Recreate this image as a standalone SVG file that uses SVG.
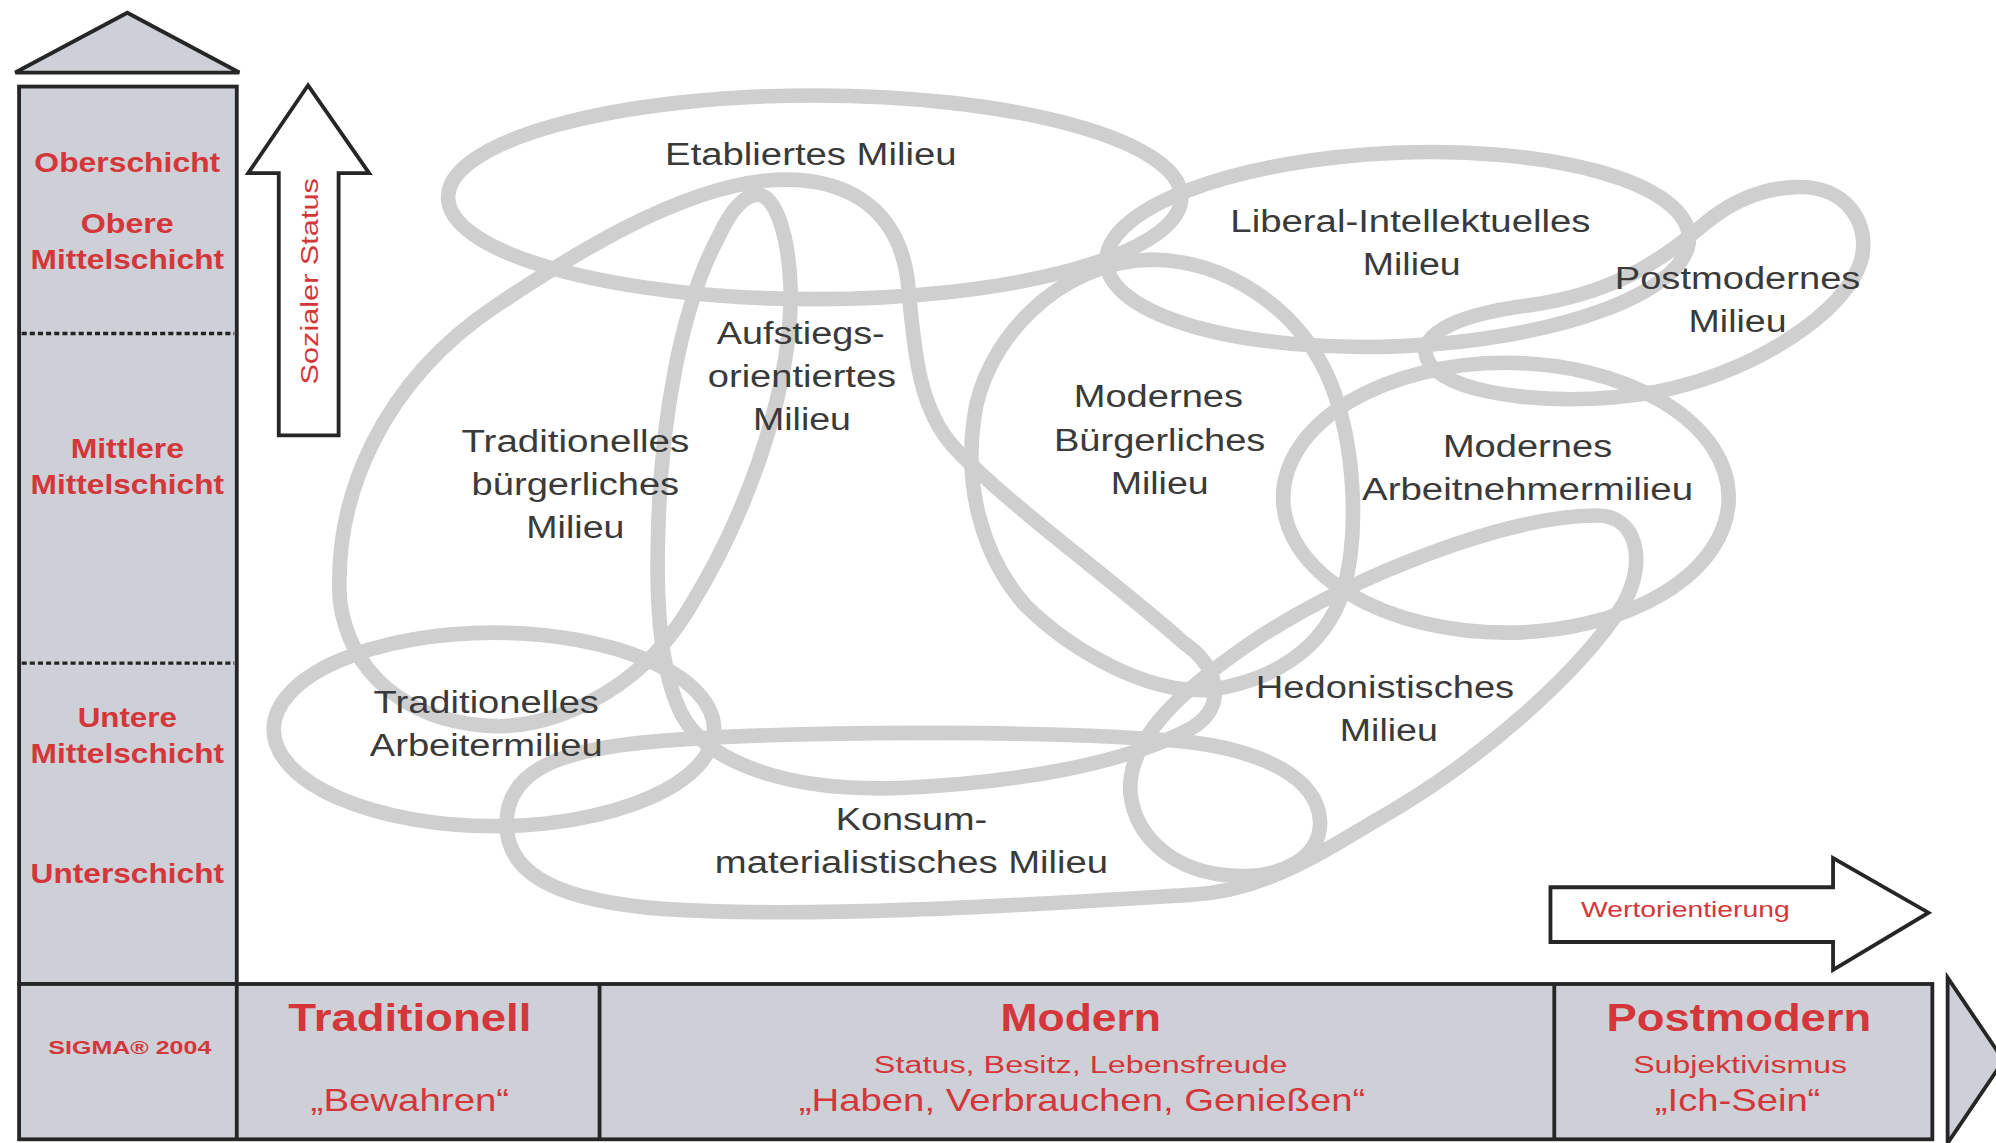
<svg xmlns="http://www.w3.org/2000/svg" width="1996" height="1143" viewBox="0 0 1996 1143">
<style>
.frame{fill:#cdd0d6;stroke:#262626;stroke-width:3;stroke-linejoin:miter}
.white{fill:#ffffff;stroke:#262626;stroke-width:3;stroke-linejoin:miter}
.loop{fill:none;stroke:#cfcfcf;stroke-width:11.5}
.lbl{font-family:"Liberation Sans",Arial,sans-serif;font-size:25px;fill:#3a3a3a;text-anchor:middle}
.red{font-family:"Liberation Sans",Arial,sans-serif;fill:#d4363a;text-anchor:middle}
.b{font-weight:bold}
.col{font-size:21px;font-weight:bold}
.dot{stroke:#222222;stroke-width:2.6;stroke-dasharray:4 2.4;fill:none}
</style>
<rect width="1996" height="1143" fill="#ffffff"/>
<g transform="scale(1.27296)">
  <g id="axis-social">
    <polygon class="frame" points="100,10 12,57 188,57"/>
    <rect class="frame" x="15" y="68" width="171" height="705"/>
    <line class="dot" x1="17" y1="262" x2="184" y2="262"/>
    <line class="dot" x1="17" y1="521" x2="184" y2="521"/>
    <text class="red col" x="100" y="135" textLength="146" lengthAdjust="spacingAndGlyphs">Oberschicht</text>
    <text class="red col" x="100" y="183" textLength="73" lengthAdjust="spacingAndGlyphs">Obere</text>
    <text class="red col" x="100" y="211" textLength="152" lengthAdjust="spacingAndGlyphs">Mittelschicht</text>
    <text class="red col" x="100" y="360" textLength="89" lengthAdjust="spacingAndGlyphs">Mittlere</text>
    <text class="red col" x="100" y="388" textLength="152" lengthAdjust="spacingAndGlyphs">Mittelschicht</text>
    <text class="red col" x="100" y="571" textLength="78" lengthAdjust="spacingAndGlyphs">Untere</text>
    <text class="red col" x="100" y="599" textLength="152" lengthAdjust="spacingAndGlyphs">Mittelschicht</text>
    <text class="red col" x="100" y="694" textLength="152" lengthAdjust="spacingAndGlyphs">Unterschicht</text>
  </g>
  <g id="axis-values">
    <polygon class="frame" points="1530,768 1574,833 1530,898"/>
    <rect class="frame" x="15" y="773" width="1503" height="122"/>
    <line stroke="#262626" stroke-width="3" x1="186" y1="773" x2="186" y2="895"/>
    <line stroke="#262626" stroke-width="3" x1="471" y1="773" x2="471" y2="895"/>
    <line stroke="#262626" stroke-width="3" x1="1221" y1="773" x2="1221" y2="895"/>
    <text class="red b" x="102" y="828" font-size="15" textLength="128" lengthAdjust="spacingAndGlyphs">SIGMA® 2004</text>
    <text class="red b" x="322" y="810" font-size="30" textLength="191" lengthAdjust="spacingAndGlyphs">Traditionell</text>
    <text class="red" x="322" y="873" font-size="24" textLength="156" lengthAdjust="spacingAndGlyphs">„Bewahren“</text>
    <text class="red b" x="849" y="810" font-size="30" textLength="126" lengthAdjust="spacingAndGlyphs">Modern</text>
    <text class="red" x="849" y="843" font-size="19" textLength="325" lengthAdjust="spacingAndGlyphs">Status, Besitz, Lebensfreude</text>
    <text class="red" x="850" y="873" font-size="24" textLength="445" lengthAdjust="spacingAndGlyphs">„Haben, Verbrauchen, Genießen“</text>
    <text class="red b" x="1366" y="810" font-size="30" textLength="208" lengthAdjust="spacingAndGlyphs">Postmodern</text>
    <text class="red" x="1367" y="843" font-size="19" textLength="168" lengthAdjust="spacingAndGlyphs">Subjektivismus</text>
    <text class="red" x="1365" y="873" font-size="24" textLength="130" lengthAdjust="spacingAndGlyphs">„Ich-Sein“</text>
  </g>
  <g id="arrow-status">
    <polygon class="white" points="242,67 290,136 266,136 266,342 219,342 219,136 195,136"/>
    <text class="red" transform="translate(243,221) rotate(-90)" x="0" y="7" font-size="19" textLength="162" lengthAdjust="spacingAndGlyphs">Sozialer Status</text>
  </g>
  <g id="arrow-wert">
    <polygon class="white" points="1218,697 1440,697 1440,674 1515,717 1440,762 1440,740 1218,740"/>
    <text class="red" x="1324" y="720" font-size="17" textLength="164" lengthAdjust="spacingAndGlyphs">Wertorientierung</text>
  </g>
  <g id="milieu-loops">
    <ellipse id="loop-etabliert" class="loop" cx="640" cy="155" rx="288" ry="80"/>
    <ellipse id="loop-liberal" class="loop" cx="1098" cy="196" rx="229" ry="76" transform="rotate(-2.5 1098 196)"/>
    <path id="loop-postmodern" class="loop" d="M1410,147 C1450,145 1470,175 1462,205 C1450,245 1380,292 1300,308 C1230,320 1145,312 1124,287 C1108,265 1140,248 1200,240 C1260,232 1300,210 1340,175 C1362,157 1385,148 1410,147 Z"/>
    <ellipse id="loop-arbeitnehmer" class="loop" cx="1183" cy="391" rx="175" ry="106"/>
    <path id="loop-modern-buergerlich" class="loop" d="M905,204 C960,204 1020,240 1045,300 C1065,350 1068,420 1055,465 C1040,510 1000,535 950,542 C900,545 840,510 805,475 C770,435 758,380 765,330 C772,270 830,205 905,204 Z"/>
    <ellipse id="loop-trad-arbeiter" class="loop" cx="388" cy="573" rx="173" ry="76"/>
    <path id="loop-trad-buergerlich-aufstieg" class="loop" d="M267,472 C262,390 300,300 390,240 C450,200 530,150 600,142 C660,136 705,160 713,220 C718,270 720,320 750,352 C790,395 880,460 930,505 C960,525 965,560 930,575 C880,600 800,615 707,619 C620,622 555,600 535,560 C520,530 515,480 517,420 C519,330 535,240 565,185 C575,163 586,153 595,153 C608,153 619,180 621,225 C623,300 590,400 540,480 C500,545 430,575 380,570 C320,565 275,530 267,472 Z"/>
    <path id="loop-konsum-hedonist" class="loop" d="M398,650 C396,605 440,588 520,582 C640,573 840,574 935,583 C990,590 1035,610 1037,645 C1038,675 1005,690 970,688 C925,686 892,660 888,623 C885,580 930,540 990,500 C1060,455 1180,405 1255,405 C1285,405 1295,440 1275,475 C1240,530 1160,600 1080,645 C1030,675 990,700 935,703 C820,710 640,722 520,714 C445,708 400,690 398,650 Z"/>
  </g>
  <g id="milieu-etabliert"><text class="lbl" x="637" y="130" textLength="229" lengthAdjust="spacingAndGlyphs">Etabliertes Milieu</text></g>
  <g id="milieu-liberal">
    <text class="lbl" x="1108" y="182" textLength="283" lengthAdjust="spacingAndGlyphs">Liberal-Intellektuelles</text>
    <text class="lbl" x="1109" y="216" textLength="77" lengthAdjust="spacingAndGlyphs">Milieu</text>
  </g>
  <g id="milieu-postmodern">
    <text class="lbl" x="1365" y="227" textLength="193" lengthAdjust="spacingAndGlyphs">Postmodernes</text>
    <text class="lbl" x="1365" y="261" textLength="77" lengthAdjust="spacingAndGlyphs">Milieu</text>
  </g>
  <g id="milieu-aufstieg">
    <text class="lbl" x="629" y="270" textLength="132" lengthAdjust="spacingAndGlyphs">Aufstiegs-</text>
    <text class="lbl" x="630" y="304" textLength="148" lengthAdjust="spacingAndGlyphs">orientiertes</text>
    <text class="lbl" x="630" y="338" textLength="77" lengthAdjust="spacingAndGlyphs">Milieu</text>
  </g>
  <g id="milieu-trad-buergerlich">
    <text class="lbl" x="452" y="355" textLength="179" lengthAdjust="spacingAndGlyphs">Traditionelles</text>
    <text class="lbl" x="452" y="389" textLength="163" lengthAdjust="spacingAndGlyphs">bürgerliches</text>
    <text class="lbl" x="452" y="423" textLength="77" lengthAdjust="spacingAndGlyphs">Milieu</text>
  </g>
  <g id="milieu-modern-buergerlich">
    <text class="lbl" x="910" y="320" textLength="133" lengthAdjust="spacingAndGlyphs">Modernes</text>
    <text class="lbl" x="911" y="354" textLength="166" lengthAdjust="spacingAndGlyphs">Bürgerliches</text>
    <text class="lbl" x="911" y="388" textLength="77" lengthAdjust="spacingAndGlyphs">Milieu</text>
  </g>
  <g id="milieu-arbeitnehmer">
    <text class="lbl" x="1200" y="359" textLength="133" lengthAdjust="spacingAndGlyphs">Modernes</text>
    <text class="lbl" x="1200" y="393" textLength="260" lengthAdjust="spacingAndGlyphs">Arbeitnehmermilieu</text>
  </g>
  <g id="milieu-trad-arbeiter">
    <text class="lbl" x="382" y="560" textLength="177" lengthAdjust="spacingAndGlyphs">Traditionelles</text>
    <text class="lbl" x="382" y="594" textLength="183" lengthAdjust="spacingAndGlyphs">Arbeitermilieu</text>
  </g>
  <g id="milieu-konsum">
    <text class="lbl" x="716" y="652" textLength="119" lengthAdjust="spacingAndGlyphs">Konsum-</text>
    <text class="lbl" x="716" y="686" textLength="309" lengthAdjust="spacingAndGlyphs">materialistisches Milieu</text>
  </g>
  <g id="milieu-hedonist">
    <text class="lbl" x="1088" y="548" textLength="203" lengthAdjust="spacingAndGlyphs">Hedonistisches</text>
    <text class="lbl" x="1091" y="582" textLength="77" lengthAdjust="spacingAndGlyphs">Milieu</text>
  </g>
</g>
</svg>
